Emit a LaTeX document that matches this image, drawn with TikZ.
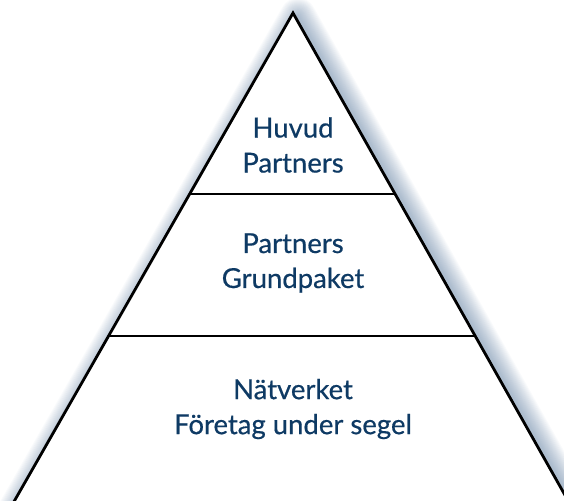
\documentclass[tikz,border=0pt]{standalone}
\usepackage{fontspec}
\newfontfamily\tierfont{Lato}[FakeBold=0.5]
\usetikzlibrary{calc}
\definecolor{navy}{RGB}{14,58,100}
\definecolor{glow}{RGB}{70,105,145}

\begin{document}
\begin{tikzpicture}[x=1pt,y=1pt,
    tier/.style={align=center,text=navy,inner sep=0pt,font=\tierfont\fontsize{27.5}{35}\selectfont}]
    \useasboundingbox (0,0) rectangle (564,500);
    \clip (0,0) rectangle (564,500);
    \coordinate (top) at (293,487);
    \coordinate (left) at (3.5,-20);
    \coordinate (right) at (579,-20);
    % soft glow round the pyramid
    \foreach \w in {2,4,...,36}
        \draw[glow,opacity=0.03,line width=\w,line join=round,transform canvas={xshift=5pt,yshift=-3pt}](top)--(left)--(right)--cycle;
    \fill[white](top)--(left)--(right)--cycle;
    \draw[line width=2.4pt]($(top)!0.357!(left)$)--($(top)!0.357!(right)$);
    \draw[line width=2.4pt]($(top)!0.637!(left)$)--($(top)!0.637!(right)$);
    \draw[line width=2.8pt,line join=miter](top)--(left)--(right)--cycle;

    \node[tier](huvud)at(293,355){Huvud\\Partners};
    \node[tier](grund)at(293,237){Partners\\Grundpaket};
    \node[tier](natverk)at(293,91){Nätverket\\Företag under segel};
\end{tikzpicture}
\end{document}
